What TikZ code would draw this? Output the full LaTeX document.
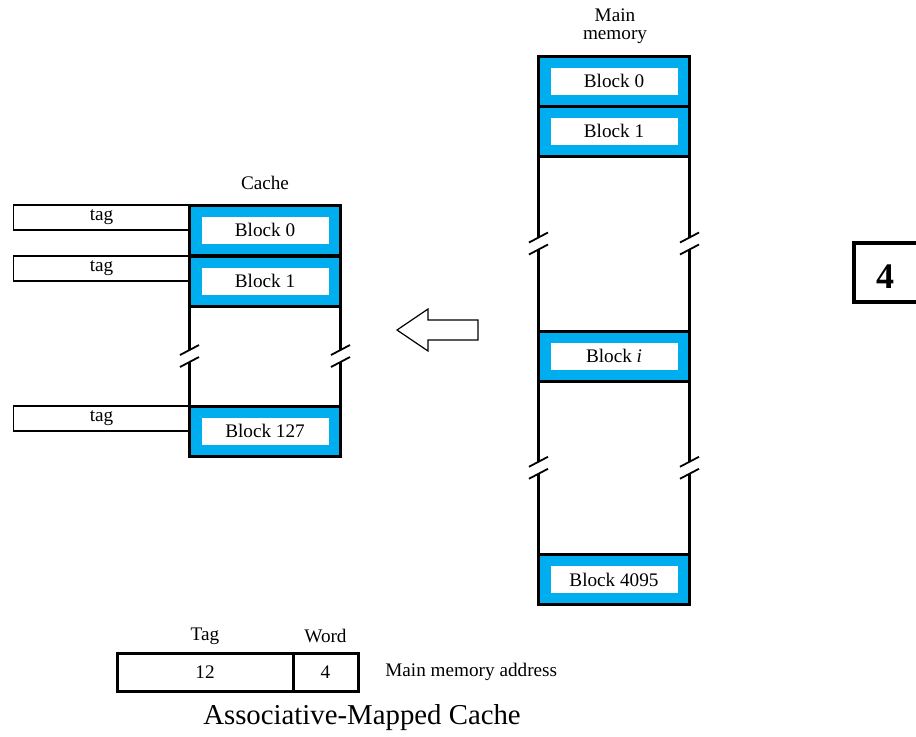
\documentclass[tikz,border=0pt]{standalone}
\usepackage{fontspec}
\setmainfont{Liberation Serif}
\usetikzlibrary{calc,positioning}
\definecolor{blkblue}{RGB}{0,174,239}
\tikzset{
  blk/.style={draw, line width=1.5pt, fill=blkblue, minimum width=75.5pt, minimum height=25pt, inner sep=0pt, outer sep=0pt},
  blklbl/.style={fill=white, minimum width=63.5pt, minimum height=13.5pt, inner sep=0pt, font=\fontsize{9.6}{11}\selectfont},
  tagbox/.style={draw, line width=0.6pt, minimum width=88pt, minimum height=12.5pt, inner sep=0pt, outer sep=0pt, anchor=north east, font=\fontsize{9.6}{11}\selectfont},
  fld/.style={draw, line width=1.5pt, minimum height=19pt, inner sep=0pt, outer sep=0pt, font=\fontsize{9.6}{11}\selectfont},
  txt/.style={inner sep=0pt, font=\fontsize{9.6}{11}\selectfont},
  colline/.style={line width=1.2pt},
  brk/.style={line width=0.9pt}
}
% column side with a break in the middle
\newcommand{\colbreak}[2]{%
  \draw[colline] (#1) -- ($(#1)!.5!(#2)+(0,-6)$);
  \draw[colline] ($(#1)!.5!(#2)+(0,6)$) -- (#2);
  \draw[brk] ($(#1)!.5!(#2)+(-9.5,-1)$) -- ++(19,-10);
  \draw[brk] ($(#1)!.5!(#2)+(-9.5,11)$) -- ++(19,-10);
}

\begin{document}
\begin{tikzpicture}[x=0.5pt,y=-0.5pt]
  \useasboundingbox (0,0) rectangle (916,736);

  %cache
  \node[txt] (cachelbl) at (265,183) {Cache};
  \node[blk] (cb0) at (265,230) {};
  \node[blk] (cb1) at (265,281) {};
  \node[blk] (cb127) at (265,431) {};
  \node[blklbl] (cb0l) at (cb0) {Block 0};
  \node[blklbl] (cb1l) at (cb1) {Block 1};
  \node[blklbl] (cb127l) at (cb127) {Block 127};
  \colbreak{cb1.south west}{cb127.north west}
  \colbreak{cb1.south east}{cb127.north east}

  %tags
  \node[tagbox] (t0) at (cb0.north west) {tag};
  \node[tagbox] (t1) at (cb1.north west) {tag};
  \node[tagbox] (t127) at (cb127.north west) {tag};

  %main memory
  \node[txt, align=center, font=\fontsize{9.6}{9}\selectfont] (mmlbl) at (615,26) {Main\\memory};
  \node[blk] (mb0) at (614,81) {};
  \node[blk] (mb1) at (614,131) {};
  \node[blk] (mbi) at (614,356) {};
  \node[blk] (mb4095) at (614,579.5) {};
  \node[blklbl] (mb0l) at (mb0) {Block 0};
  \node[blklbl] (mb1l) at (mb1) {Block 1};
  \node[blklbl] (mbil) at (mbi) {Block \textit{i}};
  \node[blklbl] (mb4095l) at (mb4095) {Block 4095};
  \colbreak{mb1.south west}{mbi.north west}
  \colbreak{mb1.south east}{mbi.north east}
  \colbreak{mbi.south west}{mb4095.north west}
  \colbreak{mbi.south east}{mb4095.north east}

  %arrow
  \draw[line width=0.6pt] (397,330) -- (428,309) -- (428,320) -- (478,320)
    -- (478,340) -- (428,340) -- (428,351) -- cycle;

  %address
  \node[fld, minimum width=88pt] (ftag) at (205,672) {12};
  \node[fld, minimum width=32.5pt, right=0pt of ftag] (fword) {4};
  \node[txt] (ltag) at (205,636) {Tag};
  \node[txt] (lword) at (325.5,636) {Word};
  \node[txt, anchor=west] (addr) at (385,672) {Main memory address};
  \node[inner sep=0pt, font=\fontsize{14.4}{17}\selectfont] (cap) at (362,718) {Associative-Mapped Cache};

  %page number
  \draw[line width=2pt] (916,243) -- (854,243) -- (854,302) -- (916,302);
  \node[inner sep=0pt, font=\fontsize{18}{22}\selectfont\bfseries] (pgno) at (885,277) {4};
\end{tikzpicture}
\end{document}
